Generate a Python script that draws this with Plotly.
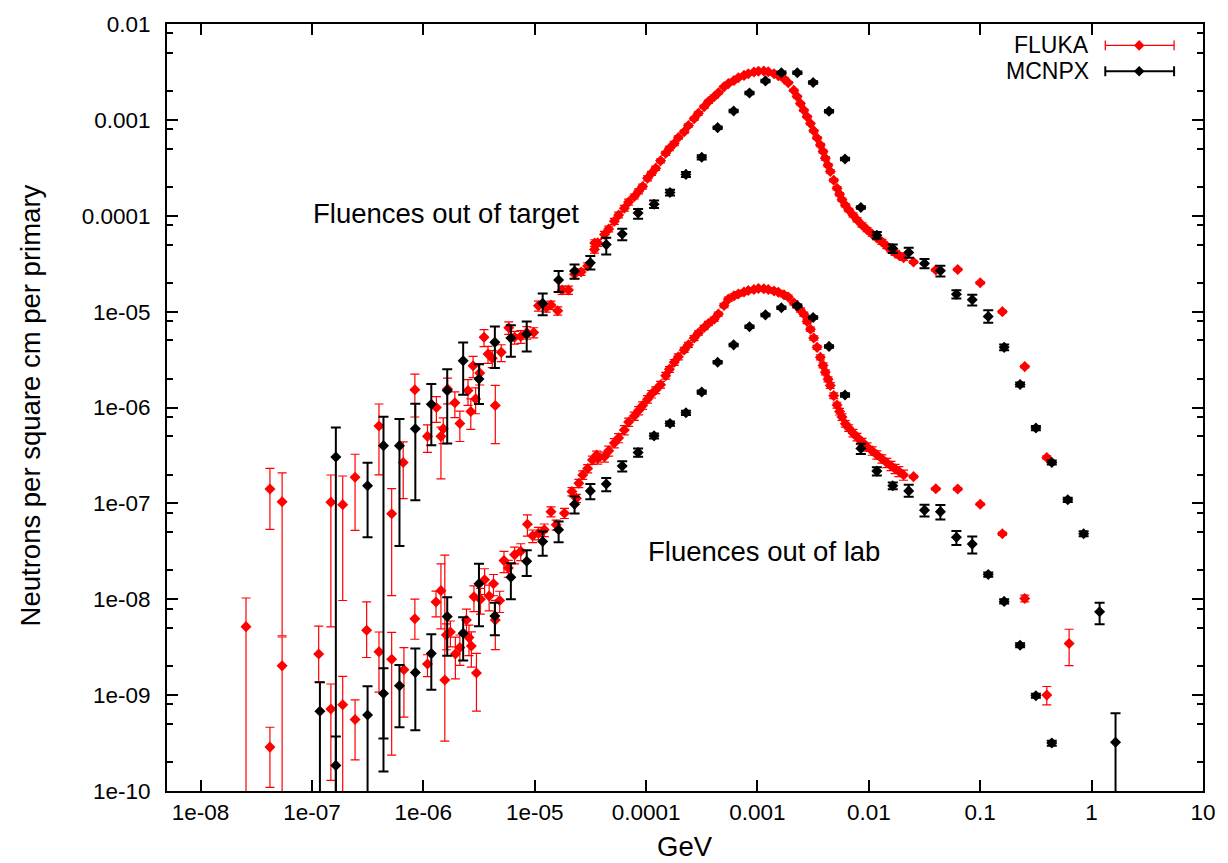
import math
import plotly.graph_objects as go

FONT = "Liberation Sans, Arial, Helvetica, sans-serif"

# ---------------- axis ticks ----------------
x_tick_vals = [1e-8, 1e-7, 1e-6, 1e-5, 1e-4, 1e-3, 1e-2, 1e-1, 1, 10]
x_tick_text = ["1e-08", "1e-07", "1e-06", "1e-05", "0.0001", "0.001", "0.01", "0.1", "1", "10"]
y_tick_vals = [1e-10, 1e-9, 1e-8, 1e-7, 1e-6, 1e-5, 1e-4, 1e-3, 1e-2]
y_tick_text = ["1e-10", "1e-09", "1e-08", "1e-07", "1e-06", "1e-05", "0.0001", "0.001", "0.01"]
y_minor_vals = [2e-10, 5e-10, 8e-10, 2e-9, 5e-9, 8e-9, 2e-8, 5e-8, 8e-8, 2e-7, 5e-7, 8e-7,
                2e-6, 5e-6, 8e-6, 2e-5, 5e-5, 8e-5, 2e-4, 5e-4, 8e-4, 2e-3, 5e-3, 8e-3]
x_range = [5e-9, 10]
y_range = [1e-10, 1e-2]

# ---------------- FLUKA (red) ----------------
# shared energy grid of the dense part (GeV)
fluka_band_E = [3.68e-5, 4.23e-5, 4.62e-5, 5.19e-5, 5.67e-5, 6.38e-5, 6.97e-5, 7.84e-5, 8.57e-5, 9.31e-5,
                1.03e-4, 1.12e-4, 1.22e-4, 1.35e-4, 1.50e-4, 1.62e-4, 1.79e-4, 1.95e-4, 2.20e-4, 2.40e-4,
                2.70e-4, 2.95e-4, 3.32e-4, 3.63e-4, 4.08e-4, 4.46e-4, 5.01e-4, 5.48e-4, 6.16e-4, 6.73e-4,
                7.57e-4, 8.27e-4, 9.30e-4, 1.02e-3, 1.14e-3, 1.25e-3, 1.41e-3, 1.54e-3, 1.73e-3, 1.89e-3,
                2.12e-3, 2.27e-3, 2.43e-3, 2.61e-3, 2.79e-3, 2.99e-3, 3.20e-3, 3.43e-3, 3.67e-3, 3.88e-3,
                4.07e-3, 4.30e-3, 4.51e-3, 4.84e-3, 5.18e-3, 5.46e-3, 5.74e-3, 6.15e-3, 6.60e-3, 7.21e-3,
                7.83e-3, 8.68e-3, 9.62e-3, 1.07e-2, 1.18e-2, 1.31e-2, 1.45e-2, 1.58e-2, 1.72e-2, 1.86e-2,
                2.05e-2]
fluka_tail_E = [2.52e-2, 3.99e-2, 6.28e-2, 1.0e-1, 1.58e-1, 2.51e-1, 3.96e-1, 6.28e-1]

# --- out of target ---
fluka_target_low_E = [4.2e-8, 5.4e-8, 1.48e-7, 1.89e-7, 2.44e-7, 4.0e-7, 5.2e-7, 6.6e-7, 8.4e-7, 1.09e-6,
                      1.31e-6, 1.44e-6, 1.51e-6, 1.65e-6, 1.92e-6, 2.13e-6, 2.52e-6, 2.67e-6, 2.8e-6, 2.95e-6,
                      3.21e-6, 3.51e-6, 3.81e-6, 4.16e-6, 4.43e-6, 5.01e-6, 5.85e-6, 6.6e-6, 7.5e-6, 8.5e-6,
                      9.8e-6, 1.08e-5, 1.27e-5, 1.4e-5, 1.61e-5, 1.76e-5, 2.01e-5, 2.28e-5, 2.61e-5, 2.99e-5,
                      3.44e-5, 3.46e-5]
fluka_target_low_F = [1.41e-7, 1.04e-7, 1.03e-7, 9.7e-8, 1.87e-7, 6.4e-7, 7.8e-8, 2.67e-7, 1.53e-6, 5.0e-7,
                      1.0e-6, 5.0e-7, 6.0e-7, 1.56e-6, 1.12e-6, 6.8e-7, 1.5e-6, 9.1e-7, 2.73e-6, 1.23e-6,
                      2.29e-6, 5.4e-6, 3.61e-6, 3.26e-6, 1.05e-6, 3.76e-6, 6.8e-6, 5.4e-6, 5.5e-6, 6.06e-6,
                      6.06e-6, 1.15e-5, 1.1e-5, 1.17e-5, 1.02e-5, 1.68e-5, 1.68e-5, 2.45e-5, 2.59e-5, 2.99e-5,
                      4.44e-5, 5.2e-5]
fluka_target_low_up = [0.64, 1.0, 0.92, 0.99, 0.74, 0.7, 0.83, 0.64, 0.46, 0.32,
                       0.3, 0.25, 0.3, 0.3, 0.3, 0.35, 0.3, 0.35, 0.25, 0.3,
                       0.25, 0.2, 0.2, 0.2, 0.62, 0.2, 0.15, 0.15, 0.15, 0.15,
                       0.12, 0.12, 0.1, 0.1, 0.1, 0.1, 0.1, 0.1, 0.08, 0.08,
                       0.08, 0.08]
fluka_target_low_dn = [0.62, 0.96, 0.95, 0.9, 0.72, 0.69, 0.86, 0.58, 0.48, 0.32,
                       0.3, 0.64, 0.3, 0.3, 0.3, 0.35, 0.3, 0.35, 0.25, 0.3,
                       0.25, 0.2, 0.2, 0.2, 0.6, 0.2, 0.15, 0.15, 0.15, 0.15,
                       0.12, 0.12, 0.1, 0.1, 0.1, 0.1, 0.1, 0.1, 0.08, 0.08,
                       0.08, 0.08]
fluka_target_band_F = [5.21e-5, 6.36e-5, 7.29e-5, 8.76e-5, 1.02e-4, 1.20e-4, 1.39e-4, 1.59e-4, 1.80e-4, 2.02e-4,
                       2.46e-4, 2.77e-4, 3.13e-4, 3.74e-4, 4.48e-4, 5.04e-4, 5.68e-4, 6.56e-4, 7.52e-4, 8.74e-4,
                       1.03e-3, 1.17e-3, 1.37e-3, 1.55e-3, 1.74e-3, 1.92e-3, 2.21e-3, 2.39e-3, 2.58e-3, 2.75e-3,
                       2.91e-3, 3.03e-3, 3.16e-3, 3.22e-3, 3.23e-3, 3.18e-3, 3.03e-3, 2.89e-3, 2.69e-3, 2.44e-3,
                       2.03e-3, 1.75e-3, 1.48e-3, 1.26e-3, 1.08e-3, 9.17e-4, 7.70e-4, 6.48e-4, 5.46e-4, 4.69e-4,
                       3.97e-4, 3.36e-4, 2.89e-4, 2.35e-4, 1.94e-4, 1.68e-4, 1.47e-4, 1.29e-4, 1.15e-4, 1.02e-4,
                       9.10e-5, 8.02e-5, 7.17e-5, 6.46e-5, 5.88e-5, 5.34e-5, 4.82e-5, 4.44e-5, 4.11e-5, 3.87e-5,
                       3.64e-5]
fluka_target_band_err = [0.08, 0.08, 0.07, 0.07, 0.07, 0.07, 0.07, 0.06, 0.06, 0.06,
                         0.06, 0.05, 0.05, 0.05, 0.05, 0.05, 0.05, 0.04, 0.04, 0.04,
                         0.04, 0.04, 0.04, 0.04, 0.04, 0.03, 0.03, 0.03, 0.03, 0.03,
                         0.03, 0.03, 0.03, 0.03, 0.03, 0.03, 0.03, 0.03, 0.03, 0.03,
                         0.03, 0.03, 0.03, 0.03, 0.03, 0.03, 0.03, 0.03, 0.04, 0.04,
                         0.04, 0.04, 0.04, 0.04, 0.04, 0.04, 0.04, 0.04, 0.04, 0.05,
                         0.05, 0.05, 0.05, 0.05, 0.05, 0.06, 0.06, 0.06, 0.06, 0.06,
                         0.06]
fluka_target_tail_F = [3.29e-5, 2.72e-5, 2.75e-5, 2.0e-5, 1.0e-5, 2.67e-6, 3.01e-7, 3.45e-9]
fluka_target_tail_up = [0.03, 0.03, 0.03, 0.03, 0.03, 0.03, 0.04, 0.41]
fluka_target_tail_dn = [0.03, 0.03, 0.03, 0.03, 0.03, 0.03, 0.04, 0.41]

# --- out of lab ---
fluka_lab_low_E = [2.56e-8, 4.2e-8, 5.4e-8, 1.15e-7, 1.48e-7, 1.89e-7, 2.44e-7, 3.1e-7, 4.0e-7, 5.2e-7,
                   6.7e-7, 8.4e-7, 1.09e-6, 1.3e-6, 1.44e-6, 1.56e-6, 1.61e-6, 1.75e-6, 1.94e-6, 2.13e-6,
                   2.44e-6, 2.57e-6, 2.7e-6, 2.85e-6, 3.0e-6, 3.26e-6, 3.55e-6, 3.9e-6, 4.27e-6, 4.43e-6,
                   4.85e-6, 5.3e-6, 5.8e-6, 6.6e-6, 7.5e-6, 8.6e-6, 9.6e-6, 1.08e-5, 1.22e-5, 1.4e-5,
                   1.56e-5, 1.85e-5, 2.16e-5, 2.37e-5, 2.49e-5, 2.7e-5, 2.99e-5, 3.3e-5, 3.6e-5]
fluka_lab_low_F = [5.18e-9, 2.87e-10, 2.02e-9, 2.68e-9, 7.18e-10, 7.95e-10, 5.57e-10, 4.75e-9, 2.83e-9, 2.37e-9,
                   1.84e-9, 6.27e-9, 2.11e-9, 9.34e-9, 1.23e-8, 1.44e-9, 4.25e-9, 4.56e-9, 2.68e-9, 3.14e-9,
                   6.08e-9, 3.98e-9, 3.26e-9, 1.06e-8, 1.7e-9, 1.0e-8, 1.6e-8, 1.08e-8, 1.45e-8, 6.08e-9,
                   9.7e-9, 2.53e-8, 2.12e-8, 2.92e-8, 3.16e-8, 6.06e-8, 4.59e-8, 4.89e-8, 5.3e-8, 8.2e-8,
                   5.97e-8, 7.9e-8, 1.33e-7, 1.13e-7, 1.62e-7, 1.98e-7, 2.31e-7, 2.83e-7, 3.19e-7]
fluka_lab_low_up = [0.99, 0.61, 1.0, 0.96, 0.82, 0.97, 0.6, 0.98, 0.61, 0.9,
                    0.7, 0.6, 0.25, 0.3, 0.9, 19.0, 0.3, 0.3, 0.5, 0.35,
                    0.3, 0.35, 0.4, 0.3, 0.6, 0.3, 0.3, 0.3, 0.25, 0.6,
                    0.25, 0.25, 0.2, 0.2, 0.2, 0.25, 0.15, 0.15, 0.15, 0.12,
                    0.12, 0.12, 0.1, 0.1, 0.1, 0.1, 0.1, 0.1, 0.1]
fluka_lab_low_dn = [1.0, 0.62, 1.0, 0.49, 0.82, 1.0, 0.62, 0.48, 0.62, 0.9,
                    0.68, 0.39, 0.26, 0.3, 0.6, 0.77, 0.3, 0.3, 0.45, 0.35,
                    0.3, 0.35, 0.4, 0.3, 0.6, 0.3, 0.3, 0.3, 0.25, 0.51,
                    0.25, 0.25, 0.2, 0.2, 0.2, 0.25, 0.15, 0.15, 0.15, 0.12,
                    0.12, 0.12, 0.1, 0.1, 0.1, 0.1, 0.1, 0.1, 0.1]
fluka_lab_band_F = [2.92e-7, 3.06e-7, 3.53e-7, 4.27e-7, 4.82e-7, 5.83e-7, 7.06e-7, 8.15e-7, 9.29e-7, 1.05e-6,
                    1.22e-6, 1.38e-6, 1.52e-6, 1.73e-6, 2.15e-6, 2.50e-6, 2.96e-6, 3.38e-6, 3.99e-6, 4.50e-6,
                    5.31e-6, 5.99e-6, 6.83e-6, 7.52e-6, 8.33e-6, 9.43e-6, 1.16e-5, 1.35e-5, 1.46e-5, 1.53e-5,
                    1.60e-5, 1.66e-5, 1.70e-5, 1.74e-5, 1.73e-5, 1.70e-5, 1.64e-5, 1.59e-5, 1.50e-5, 1.42e-5,
                    1.24e-5, 1.14e-5, 1.04e-5, 9.39e-6, 7.88e-6, 6.56e-6, 5.31e-6, 4.24e-6, 3.34e-6, 2.75e-6,
                    2.33e-6, 1.97e-6, 1.70e-6, 1.33e-6, 1.06e-6, 9.08e-7, 7.96e-7, 6.78e-7, 6.12e-7, 5.43e-7,
                    4.93e-7, 4.38e-7, 3.89e-7, 3.53e-7, 3.21e-7, 2.92e-7, 2.65e-7, 2.47e-7, 2.30e-7, 2.16e-7,
                    1.98e-7]
fluka_lab_band_err = [0.12, 0.12, 0.12, 0.11, 0.11, 0.11, 0.1, 0.1, 0.1, 0.09,
                      0.09, 0.09, 0.08, 0.08, 0.08, 0.07, 0.07, 0.07, 0.06, 0.06,
                      0.06, 0.05, 0.05, 0.05, 0.05, 0.05, 0.05, 0.05, 0.05, 0.05,
                      0.05, 0.05, 0.05, 0.05, 0.05, 0.05, 0.05, 0.05, 0.05, 0.05,
                      0.05, 0.05, 0.05, 0.05, 0.05, 0.05, 0.05, 0.05, 0.06, 0.06,
                      0.06, 0.06, 0.07, 0.07, 0.07, 0.08, 0.08, 0.08, 0.08, 0.09,
                      0.09, 0.09, 0.1, 0.1, 0.1, 0.1, 0.11, 0.11, 0.11, 0.12,
                      0.12]
fluka_lab_tail_F = [1.9e-7, 1.42e-7, 1.41e-7, 9.8e-8, 4.82e-8, 1.02e-8, 1.0e-9]
fluka_lab_tail_up = [0.03, 0.03, 0.03, 0.03, 0.04, 0.08, 0.23]
fluka_lab_tail_dn = [0.03, 0.03, 0.03, 0.03, 0.04, 0.08, 0.21]

# ---------------- MCNPX (black) ----------------
mcnpx_target_E = [1.64e-7, 3.16e-7, 4.39e-7, 6.11e-7, 8.48e-7, 1.18e-6, 1.64e-6, 2.28e-6, 3.16e-6, 4.39e-6,
                  6.11e-6, 8.48e-6, 1.18e-5, 1.64e-5, 2.28e-5, 3.16e-5, 4.39e-5, 6.11e-5, 8.48e-5, 1.18e-4,
                  1.64e-4, 2.28e-4, 3.16e-4, 4.39e-4, 6.11e-4, 8.48e-4, 1.18e-3, 1.64e-3, 2.28e-3, 3.16e-3,
                  4.39e-3, 6.11e-3, 8.48e-3, 1.18e-2, 1.64e-2, 2.28e-2, 3.16e-2, 4.39e-2, 6.11e-2, 8.48e-2,
                  0.118, 0.164, 0.228, 0.316, 0.439, 0.611, 0.848, 1.18, 1.64]
mcnpx_target_F = [3.05e-7, 1.53e-7, 4.0e-7, 4.0e-7, 6.0e-7, 1.08e-6, 1.5e-6, 3.08e-6, 1.98e-6, 4.78e-6,
                  5.3e-6, 5.8e-6, 1.22e-5, 2.14e-5, 2.65e-5, 3.23e-5, 5.0e-5, 6.46e-5, 1.07e-4, 1.32e-4,
                  1.75e-4, 2.7e-4, 4.07e-4, 8.3e-4, 1.24e-3, 1.91e-3, 2.55e-3, 3.1e-3, 3.1e-3, 2.45e-3,
                  1.23e-3, 3.9e-4, 1.22e-4, 6.27e-5, 4.55e-5, 4.14e-5, 3.18e-5, 2.67e-5, 1.52e-5, 1.33e-5,
                  8.9e-6, 4.24e-6, 1.74e-6, 6.1e-7, 2.67e-7, 1.09e-7, 4.82e-8, 7.4e-9, 3.23e-10]
mcnpx_target_up = [1.03, 0.73, 1.0, 0.9, 0.82, 0.63, 0.67, 0.55, 0.43, 0.46,
                   0.36, 0.36, 0.27, 0.24, 0.17, 0.18, 0.18, 0.13, 0.1, 0.09,
                   0.07, 0.06, 0.05, 0.03, 0.03, 0.03, 0.03, 0.03, 0.03, 0.03,
                   0.03, 0.03, 0.03, 0.08, 0.1, 0.12, 0.11, 0.13, 0.1, 0.13,
                   0.16, 0.07, 0.05, 0.05, 0.05, 0.05, 0.06, 0.24, 1.0]
mcnpx_target_dn = [1.0, 0.71, 0.9996, 0.91, 0.82, 0.625, 0.72, 0.56, 0.45, 0.46,
                   0.36, 0.34, 0.25, 0.25, 0.17, 0.15, 0.21, 0.14, 0.13, 0.09,
                   0.07, 0.06, 0.05, 0.03, 0.03, 0.03, 0.03, 0.03, 0.03, 0.03,
                   0.03, 0.03, 0.03, 0.08, 0.1, 0.12, 0.11, 0.13, 0.1, 0.13,
                   0.14, 0.07, 0.05, 0.05, 0.05, 0.05, 0.06, 0.26, 1.0]

mcnpx_lab_E = [1.18e-7, 1.64e-7, 3.16e-7, 4.39e-7, 6.11e-7, 8.48e-7, 1.18e-6, 1.64e-6, 2.28e-6, 3.16e-6,
               4.39e-6, 6.11e-6, 8.48e-6, 1.18e-5, 1.64e-5, 2.28e-5, 3.16e-5, 4.39e-5, 6.11e-5, 8.48e-5,
               1.18e-4, 1.64e-4, 2.28e-4, 3.16e-4, 4.39e-4, 6.11e-4, 8.48e-4, 1.18e-3, 1.64e-3, 2.28e-3,
               3.16e-3, 4.39e-3, 6.11e-3, 8.48e-3, 1.18e-2, 1.64e-2, 2.28e-2, 3.16e-2, 4.39e-2, 6.11e-2,
               8.48e-2, 0.118, 0.164, 0.228, 0.316, 0.439]
mcnpx_lab_F = [6.8e-10, 1.85e-10, 6.2e-10, 1.04e-9, 1.25e-9, 1.72e-9, 2.71e-9, 6.6e-9, 4.42e-9, 1.45e-8,
               6.7e-9, 1.7e-8, 2.49e-8, 4.0e-8, 5.3e-8, 9.8e-8, 1.35e-7, 1.59e-7, 2.45e-7, 3.4e-7,
               5.06e-7, 6.8e-7, 8.8e-7, 1.45e-6, 2.96e-6, 4.5e-6, 6.95e-6, 9.25e-6, 1.1e-5, 1.15e-5,
               8.7e-6, 4.34e-6, 1.35e-6, 3.73e-7, 2.17e-7, 1.53e-7, 1.35e-7, 8.5e-8, 8.2e-8, 4.44e-8,
               3.76e-8, 1.81e-8, 9.5e-9, 3.32e-9, 9.87e-10, 3.16e-10]
mcnpx_lab_up = [1.0, 1.0, 1.0, 0.83, 0.65, 0.78, 0.59, 0.59, 0.47, 0.62,
                0.37, 0.4, 0.3, 0.27, 0.22, 0.2, 0.18, 0.16, 0.12, 0.1,
                0.06, 0.05, 0.05, 0.04, 0.03, 0.03, 0.03, 0.03, 0.03, 0.03,
                0.03, 0.03, 0.04, 0.12, 0.1, 0.08, 0.16, 0.14, 0.17, 0.16,
                0.2, 0.05, 0.05, 0.05, 0.05, 0.06]
mcnpx_lab_dn = [1.0, 1.0, 1.0, 0.66, 0.63, 0.75, 0.58, 0.61, 0.48, 0.64,
                0.37, 0.41, 0.3, 0.29, 0.26, 0.2, 0.18, 0.16, 0.12, 0.1,
                0.06, 0.05, 0.05, 0.04, 0.03, 0.03, 0.03, 0.03, 0.03, 0.03,
                0.03, 0.03, 0.04, 0.12, 0.1, 0.08, 0.13, 0.14, 0.17, 0.17,
                0.2, 0.05, 0.05, 0.05, 0.05, 0.06]

series_names = ["FLUKA", "MCNPX"]
series_colors = ["#ff0000", "#000000"]

# ---------------- figure ----------------
W, H = 1228, 863
ML, MR, MT, MB = 167, 22, 20, 72
PW, PH = W - ML - MR, H - MT - MB
MSIZE = 8.5


def px(xp):
    return (xp - ML) / PW


def py(yp):
    return (H - MB - yp) / PH


fig = go.Figure()


def add_series(E, F, up, dn, color, thick, capw):
    fig.add_trace(go.Scatter(
        x=E, y=F, mode="markers",
        marker=dict(symbol="diamond", size=MSIZE, color=color, line=dict(width=0)),
        error_y=dict(type="data", symmetric=False,
                     array=[f * u for f, u in zip(F, up)],
                     arrayminus=[f * d for f, d in zip(F, dn)],
                     color=color, thickness=thick, width=capw),
        showlegend=False, hoverinfo="skip"))


red, black = series_colors
# FLUKA first (drawn underneath)
add_series(fluka_target_low_E + fluka_band_E + fluka_tail_E,
           fluka_target_low_F + fluka_target_band_F + fluka_target_tail_F,
           fluka_target_low_up + fluka_target_band_err + fluka_target_tail_up,
           fluka_target_low_dn + fluka_target_band_err + fluka_target_tail_dn,
           red, 1.2, 4.5)
add_series(fluka_lab_low_E + fluka_band_E + fluka_tail_E[:len(fluka_lab_tail_F)],
           fluka_lab_low_F + fluka_lab_band_F + fluka_lab_tail_F,
           fluka_lab_low_up + fluka_lab_band_err + fluka_lab_tail_up,
           fluka_lab_low_dn + fluka_lab_band_err + fluka_lab_tail_dn,
           red, 1.2, 4.5)
add_series(mcnpx_target_E, mcnpx_target_F, mcnpx_target_up, mcnpx_target_dn, black, 2, 5)
add_series(mcnpx_lab_E, mcnpx_lab_F, mcnpx_lab_up, mcnpx_lab_dn, black, 2, 5)

axis_common = dict(
    type="log", showgrid=False, zeroline=False,
    showline=True, linecolor="black", linewidth=2, mirror="allticks",
    ticks="inside", ticklen=11, tickwidth=1.5, tickcolor="black",
    tickfont=dict(family=FONT, size=22.5, color="black"),
)
fig.update_xaxes(range=[math.log10(x_range[0]), math.log10(x_range[1])],
                 tickvals=x_tick_vals, ticktext=x_tick_text, **axis_common)
fig.update_yaxes(range=[math.log10(y_range[0]), math.log10(y_range[1])],
                 tickvals=y_tick_vals, ticktext=y_tick_text, ticklabelstandoff=10,
                 minor=dict(tickvals=y_minor_vals, ticks="inside", ticklen=6,
                            tickwidth=1.5, tickcolor="black", showgrid=False),
                 **axis_common)

annotations = [
    dict(text="Fluences out of target", x=px(446.5), y=py(210), xref="paper", yref="paper",
         showarrow=False, xanchor="center", yanchor="middle", font=dict(family=FONT, size=27.5, color="black")),
    dict(text="Fluences out of lab", x=px(766), y=py(550), xref="paper", yref="paper",
         showarrow=False, xanchor="center", yanchor="middle", font=dict(family=FONT, size=27.5, color="black")),
    dict(text="GeV", x=0.5, y=py(847), xref="paper", yref="paper",
         showarrow=False, xanchor="center", yanchor="middle", font=dict(family=FONT, size=27.5, color="black")),
    dict(text="Neutrons per square cm per primary", x=px(30), y=py(403), xref="paper", yref="paper",
         textangle=-90, showarrow=False, xanchor="center", yanchor="middle",
         font=dict(family=FONT, size=27.5, color="black")),
]

# key (gnuplot style: text right-aligned, sample on the right)
shapes = []
key_rows = [41.5, 67.5]
key_widths = [1.3, 2]
for name, color, yrow, lw in zip(series_names, series_colors, key_rows, key_widths):
    annotations.append(dict(text=name, x=px(1094), y=py(yrow), xref="paper", yref="paper",
                            showarrow=False, xanchor="right", yanchor="middle",
                            font=dict(family=FONT, size=23, color="black")))
    x0, x1, xm = px(1108), px(1177), px(1142)
    yc = py(yrow)
    dy = 5 / PH
    shapes.append(dict(type="line", xref="paper", yref="paper", x0=x0, x1=x1, y0=yc, y1=yc,
                       line=dict(color=color, width=lw)))
    for xe in (x0, x1):
        shapes.append(dict(type="line", xref="paper", yref="paper", x0=xe, x1=xe, y0=yc - dy, y1=yc + dy,
                           line=dict(color=color, width=lw)))
    ddx, ddy = 5.3 / PW, 5.3 / PH
    shapes.append(dict(type="path", xref="paper", yref="paper",
                       path=f"M {xm - ddx},{yc} L {xm},{yc + ddy} L {xm + ddx},{yc} L {xm},{yc - ddy} Z",
                       fillcolor=color, line=dict(width=0)))

fig.update_layout(
    width=W, height=H,
    margin=dict(l=ML, r=MR, t=MT, b=MB),
    paper_bgcolor="white", plot_bgcolor="white",
    font=dict(family=FONT, color="black"),
    showlegend=False,
    annotations=annotations,
    shapes=shapes,
)

fig.write_html("out.html")
